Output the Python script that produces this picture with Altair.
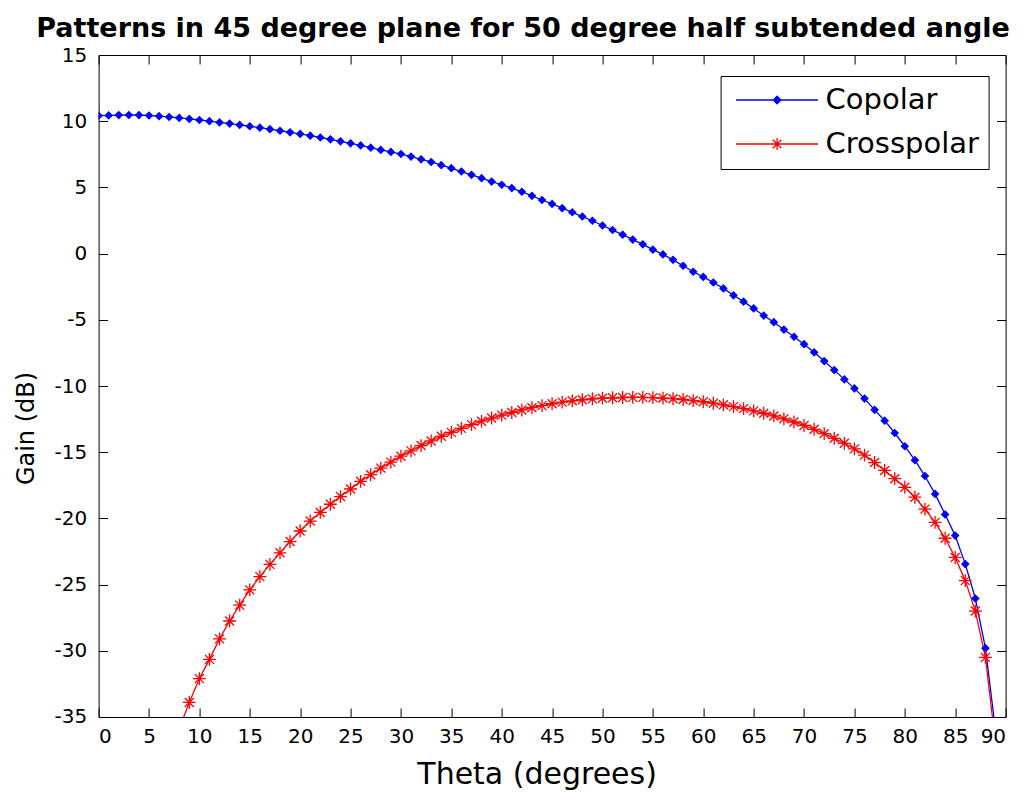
import altair as alt
import pandas as pd

# ---- data -----------------------------------------------------------------
series_names = ["Copolar", "Crosspolar"]
series_colors = ["#0000ff", "#ff0000"]

theta_co = list(range(0, 90))
gain_co = [
    10.42, 10.44, 10.46, 10.47, 10.46, 10.43, 10.38, 10.32, 10.25, 10.17,
    10.09, 10.00, 9.91, 9.82, 9.72, 9.62, 9.51, 9.40, 9.28, 9.16,
    9.04, 8.91, 8.77, 8.63, 8.48, 8.33, 8.17, 8.00, 7.83, 7.68,
    7.52, 7.33, 7.12, 6.92, 6.68, 6.45, 6.20, 5.95, 5.70, 5.44,
    5.20, 4.95, 4.67, 4.36, 4.05, 3.75, 3.43, 3.12, 2.80, 2.48,
    2.12, 1.78, 1.43, 1.06, 0.70, 0.30, -0.06, -0.47, -0.92, -1.37,
    -1.76, -2.18, -2.63, -3.15, -3.63, -4.14, -4.68, -5.18, -5.74, -6.28,
    -6.84, -7.46, -8.12, -8.80, -9.50, -10.18, -10.95, -11.80, -12.62, -13.55,
    -14.55, -15.60, -16.80, -18.15, -19.70, -21.30, -23.45, -26.05, -29.80, -36.00,
]

theta_cx = list(range(8, 90))
gain_cx = [
    -35.90, -33.90, -32.10, -30.65, -29.10, -27.75, -26.55, -25.40, -24.40, -23.47,
    -22.60, -21.75, -20.95, -20.20, -19.55, -18.93, -18.35, -17.78, -17.20, -16.70,
    -16.20, -15.75, -15.30, -14.90, -14.50, -14.15, -13.80, -13.50, -13.20, -12.92,
    -12.66, -12.42, -12.20, -12.00, -11.81, -11.64, -11.48, -11.34, -11.22, -11.12,
    -11.04, -10.97, -10.92, -10.89, -10.87, -10.86, -10.86, -10.88, -10.91, -10.96,
    -11.02, -11.10, -11.19, -11.30, -11.42, -11.56, -11.71, -11.88, -12.06, -12.26,
    -12.48, -12.72, -12.98, -13.27, -13.60, -13.95, -14.33, -14.75, -15.22, -15.78,
    -16.38, -17.00, -17.65, -18.40, -19.30, -20.30, -21.50, -22.95, -24.70, -27.00,
    -30.50, -37.00,
]

x_ticks = list(range(0, 91, 5))
y_ticks = list(range(-35, 16, 5))

df = pd.concat([
    pd.DataFrame({"theta": theta_co, "gain": gain_co, "series": "Copolar"}),
    pd.DataFrame({"theta": theta_cx, "gain": gain_cx, "series": "Crosspolar"}),
], ignore_index=True)

# ---- layout constants -------------------------------------------------------
W, H = 907, 662
FONT = "DejaVu Sans"
PLAIN_LABEL = "'' + datum.value"   # ASCII hyphen for negative numbers

# plot marker: eight-armed asterisk in the unit square
ASTERISK = "M-1,0L1,0M0,-1L0,1M-0.7,-0.7L0.7,0.7M-0.7,0.7L0.7,-0.7"
# legend symbols (legend symbolSize 100 -> 5 px per unit): a line segment
# with the series marker at its middle
LEG_CO = "M-1.7,0L14.7,0M6.5,-0.75L7.25,0L6.5,0.75L5.75,0Z"
LEG_CX = ("M-1.7,0L14.7,0M5.3,0L7.7,0M6.5,-1.2L6.5,1.2"
          "M5.65,-0.85L7.35,0.85M5.65,0.85L7.35,-0.85")

x_scale = alt.Scale(domain=[0, 90], nice=False, zero=False)
y_scale = alt.Scale(domain=[-35, 15], nice=False, zero=False)
color_scale = alt.Scale(domain=series_names, range=series_colors)

base = alt.Chart(df)

x_main = alt.X(
    "theta:Q", scale=x_scale,
    axis=alt.Axis(values=x_ticks, ticks=False, domain=False, grid=False,
                  labelFontSize=20, labelPadding=10, labelColor="black",
                  labelFont=FONT, labelExpr=PLAIN_LABEL,
                  title="Theta (degrees)", titleFontSize=30,
                  titleFont=FONT, titleFontWeight="normal", titleColor="black",
                  titleX=438, titleY=58, titleBaseline="middle"),
)
y_main = alt.Y(
    "gain:Q", scale=y_scale,
    axis=alt.Axis(values=y_ticks, ticks=False, domain=False, grid=False,
                  labelFontSize=20, labelPadding=12, labelColor="black",
                  labelFont=FONT, labelExpr=PLAIN_LABEL,
                  title="Gain (dB)", titleFontSize=24,
                  titleFont=FONT, titleFontWeight="normal", titleColor="black",
                  titleX=-72, titleY=373, titleAngle=270,
                  titleBaseline="middle"),
)

legend_props = dict(
    title=None, orient="none", legendX=622, legendY=21,
    strokeColor="black", fillColor="white", padding=9.5,
    symbolSize=100, symbolStrokeWidth=1.3, symbolOpacity=1,
    labelFont=FONT, labelFontSize=29, labelColor="black", labelOffset=66.5,
    rowPadding=14,
)

lines = base.mark_line(strokeWidth=1.3, clip=True).encode(
    x=x_main,
    y=y_main,
    color=alt.Color("series:N", scale=color_scale, legend=None),
)

x_plain = alt.X("theta:Q", scale=x_scale, axis=None)
y_plain = alt.Y("gain:Q", scale=y_scale, axis=None)

co_pts = base.transform_filter(alt.datum.series == "Copolar").mark_point(
    shape="diamond", filled=True, size=75, opacity=1, clip=True
).encode(x=x_plain, y=y_plain,
         color=alt.Color("series:N", scale=color_scale, legend=None))

cx_pts = base.transform_filter(alt.datum.series == "Crosspolar").mark_point(
    shape=ASTERISK, filled=False, size=165, strokeWidth=1.3, opacity=1, clip=True
).encode(x=x_plain, y=y_plain,
         color=alt.Color("series:N", scale=color_scale, legend=None))

# invisible points (size 0) whose shape scale drives the legend
legend_layer = base.mark_point(filled=False, size=0, clip=True).encode(
    x=x_plain, y=y_plain,
    shape=alt.Shape("series:N",
                    scale=alt.Scale(domain=series_names, range=[LEG_CO, LEG_CX]),
                    legend=alt.Legend(**legend_props)),
)


def tick_axis(channel, orient, offset, ticks):
    ax = alt.Axis(orient=orient, offset=offset, values=ticks, labels=False,
                  domain=False, grid=False, ticks=True, tickSize=9,
                  tickColor="black", tickWidth=1, title=None)
    enc = alt.X("theta:Q", scale=x_scale, axis=ax) if channel == "x" else \
        alt.Y("gain:Q", scale=y_scale, axis=ax)
    return base.transform_filter("false").mark_point().encode(**{channel: enc})


# inward-pointing ticks on all four sides of the frame
tick_layers = [
    tick_axis("x", "top", -H, x_ticks),      # bottom edge, ticks pointing up
    tick_axis("x", "bottom", -H, x_ticks),   # top edge, ticks pointing down
    tick_axis("y", "right", -W, y_ticks),    # left edge, ticks pointing right
    tick_axis("y", "left", -W, y_ticks),     # right edge, ticks pointing left
]

chart = alt.layer(
    legend_layer, lines, co_pts, cx_pts, *tick_layers
).resolve_axis(x="independent", y="independent").properties(
    width=W, height=H,
    title=alt.TitleParams(
        "Patterns in 45 degree plane for 50 degree half subtended angle",
        font=FONT, fontSize=27, fontWeight="bold", color="black",
        anchor="middle", frame="group", baseline="alphabetic", offset=5,
        dx=-29, dy=24,
    ),
    autosize=alt.AutoSizeParams(type="none"),
    padding={"left": 98.6, "top": 55, "right": 23, "bottom": 81},
    background="white",
).configure_view(stroke="black", strokeWidth=1)

chart.save("out.html", embed_options={"renderer": "svg", "actions": False})
